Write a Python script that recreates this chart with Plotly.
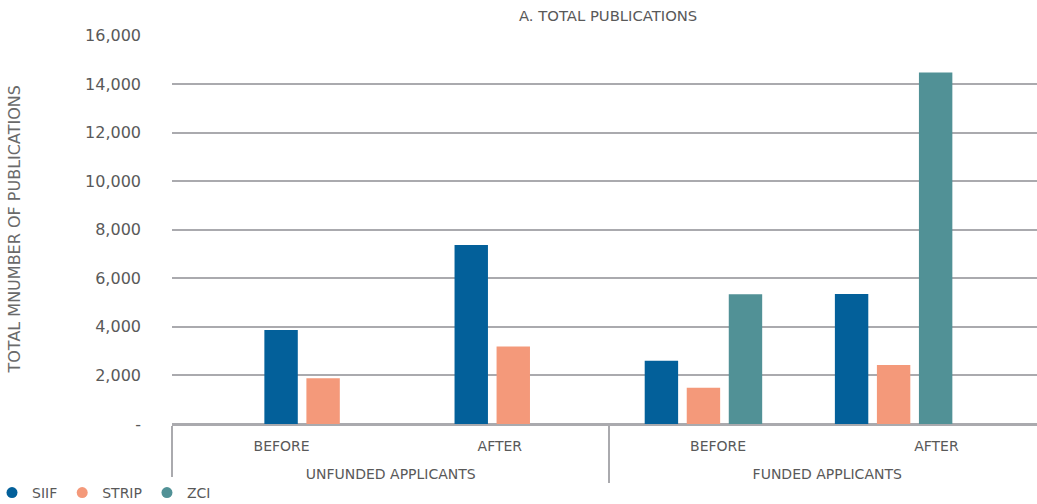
import plotly.graph_objects as go

# Category structure: applicant group x period
groups = ["UNFUNDED APPLICANTS", "UNFUNDED APPLICANTS", "FUNDED APPLICANTS", "FUNDED APPLICANTS"]
periods = ["BEFORE", "AFTER", "BEFORE", "AFTER"]

# Total publications per programme
siif = [3870, 7370, 2600, 5350]
strip = [1880, 3190, 1490, 2430]
zci = [None, None, 5340, 14480]

series_names = ["SIIF", "STRIP", "ZCI"]
y_tick_values = [0, 2000, 4000, 6000, 8000, 10000, 12000, 14000, 16000]
y_tick_labels = ["-", "2,000", "4,000", "6,000", "8,000", "10,000", "12,000", "14,000", "16,000"]

colors = {"SIIF": "#03609a", "STRIP": "#f4997a", "ZCI": "#519196"}
text_color = "#595959"
grid_color = "#aaaaae"
font_family = "'DejaVu Sans', Verdana, sans-serif"

W, H = 1037, 504
ML, MR, MT, MB = 172, 0, 35, 80
plot_w = W - ML - MR
plot_h = H - MT - MB

fig = go.Figure()

x_cat = [groups, periods]
for name, vals in zip(series_names, [siif, strip, zci]):
    fig.add_trace(go.Bar(
        x=x_cat, y=vals, name=name, xaxis="x", yaxis="y",
        marker=dict(color=colors[name], line=dict(width=0)),
        showlegend=False,
    ))

# legend entries drawn as round markers
for name in series_names:
    fig.add_trace(go.Scatter(
        x=[None], y=[None], mode="markers", name=name,
        marker=dict(symbol="circle", size=11, color=colors[name]),
        xaxis="x", yaxis="y", showlegend=True,
    ))

# carrier for the two-level category labels; the group row sits one line lower
label_cat = [["<br>" + g for g in groups], periods]
fig.add_trace(go.Scatter(
    x=label_cat, y=[None] * len(periods), mode="markers",
    xaxis="x2", yaxis="y", showlegend=False, hoverinfo="skip",
    marker=dict(opacity=0),
))

fig.update_layout(
    width=W, height=H,
    margin=dict(l=ML, r=MR, t=MT, b=MB, autoexpand=False),
    paper_bgcolor="white", plot_bgcolor="white",
    barmode="group", bargap=0.337, bargroupgap=0.205,
    font=dict(family=font_family, color=text_color),
    xaxis=dict(
        type="multicategory", visible=False,
        range=[-0.7946, 3.754],
    ),
    xaxis2=dict(
        type="multicategory", overlaying="x", side="bottom", anchor="y",
        range=[-0.502, 3.461],
        showline=True, linecolor=grid_color, linewidth=2,
        showdividers=True, dividercolor=grid_color, dividerwidth=2,
        ticks="", ticklabelstandoff=8,
        showgrid=False, automargin=False,
        tickfont=dict(size=14, color=text_color, family=font_family),
    ),
    yaxis=dict(
        range=[0, 16020], automargin=False,
        tickvals=y_tick_values, ticktext=y_tick_labels,
        showgrid=True, gridcolor=grid_color, gridwidth=2,
        zeroline=True, zerolinecolor=grid_color, zerolinewidth=2,
        showline=False, ticks="",
        ticklabelstandoff=30,
        tickfont=dict(size=16, color=text_color, family=font_family),
    ),
    legend=dict(
        orientation="h", x=-(ML + 8) / plot_w, xanchor="left",
        y=-(MB + 5) / plot_h, yanchor="bottom",
        font=dict(size=14, color=text_color, family=font_family),
        itemwidth=30, tracegroupgap=0,
    ),
    annotations=[
        dict(
            text="A. TOTAL PUBLICATIONS", xref="paper", yref="paper",
            x=(608 - ML) / plot_w, y=1, yshift=20, xanchor="center", yanchor="middle",
            showarrow=False, font=dict(size=14.8, color=text_color, family=font_family),
        ),
        dict(
            text="TOTAL MNUMBER OF PUBLICATIONS", xref="paper", yref="paper",
            x=-(ML - 14) / plot_w, y=0.5, xanchor="center", yanchor="middle",
            textangle=-90, showarrow=False,
            font=dict(size=16, color="#6a6a6a", family=font_family),
        ),
    ],
)

fig.write_html("out.html")
